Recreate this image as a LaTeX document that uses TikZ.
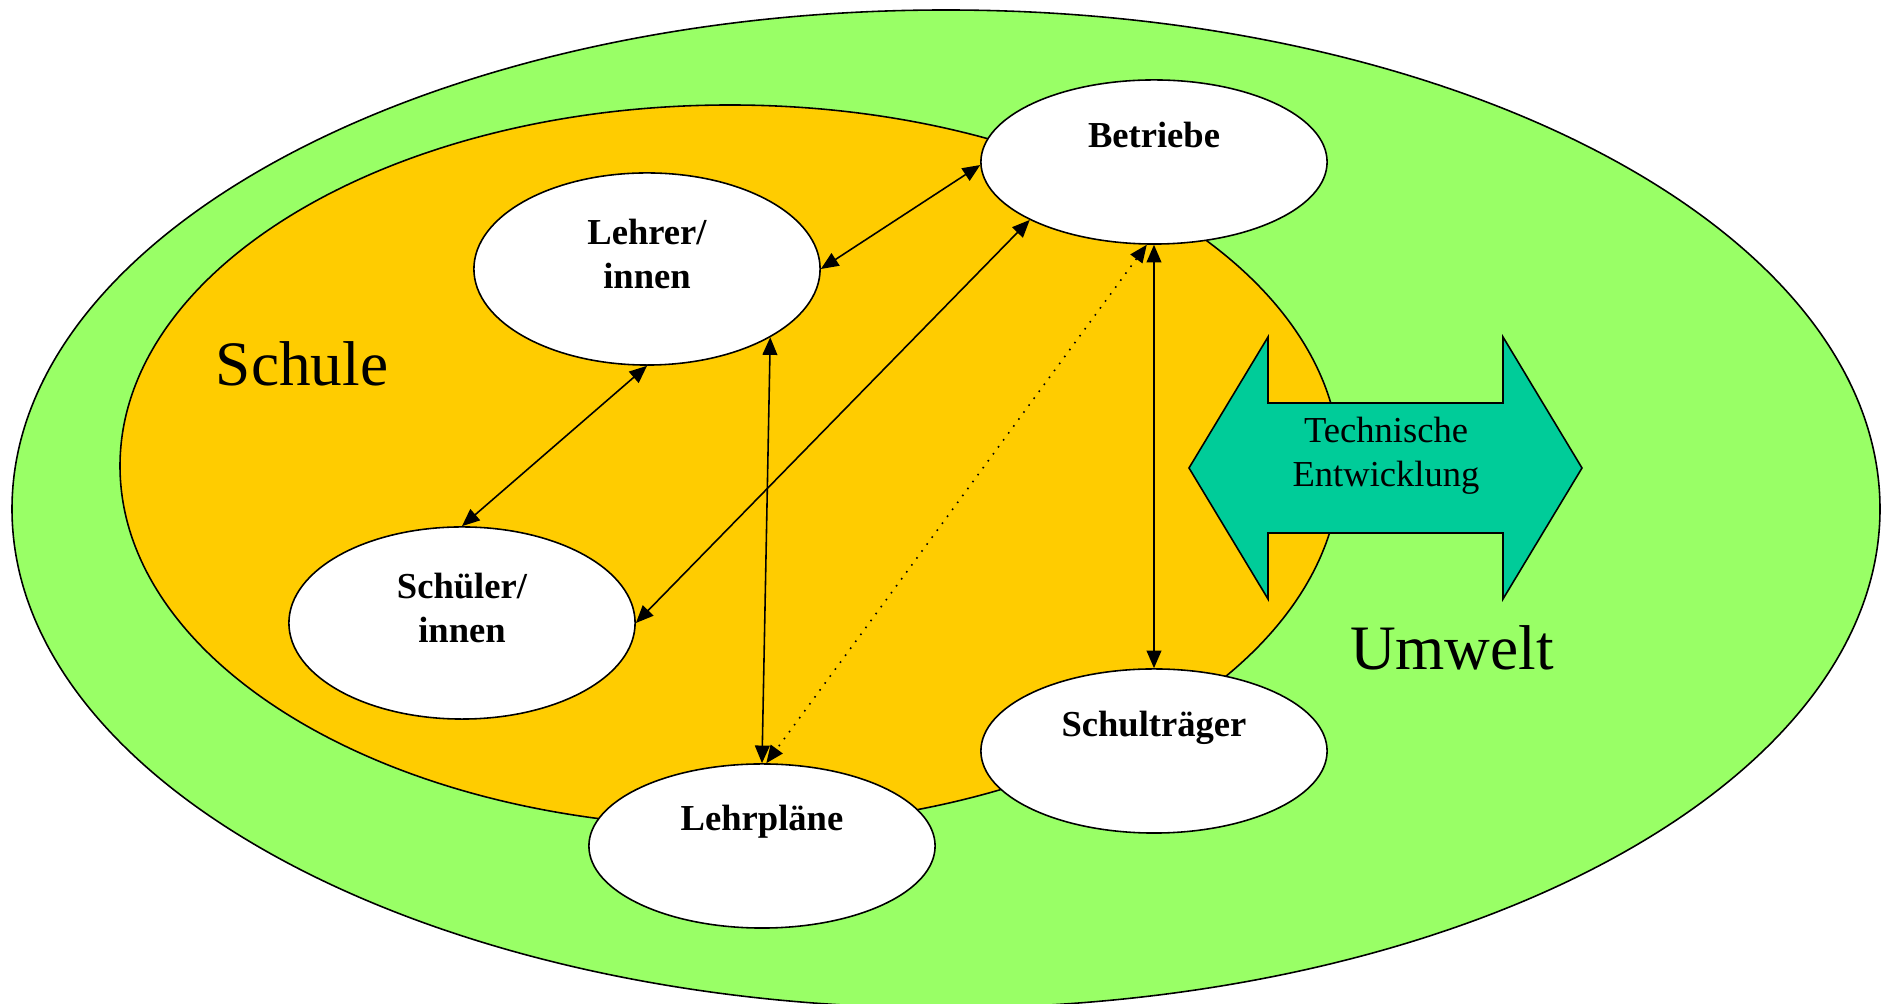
\documentclass[tikz,border=0pt]{standalone}
\usepackage{fontspec}
\setmainfont{Liberation Serif}
\usetikzlibrary{arrows.meta,shapes.geometric,calc}
\definecolor{umwelt}{HTML}{99FF66}
\definecolor{schule}{HTML}{FFCC00}
\definecolor{technik}{HTML}{00CC99}
\tikzset{
  ell/.style={ellipse,draw=black,fill=white,line width=0.45pt,minimum width=3.46cm,inner sep=0pt},
  ellA/.style={ell,minimum height=1.64cm},
  ellB/.style={ell,minimum height=1.92cm},
  lbl/.style={font=\fontsize{10.4}{12.4}\selectfont\bfseries,align=center,inner sep=0pt},
  big/.style={font=\fontsize{18}{21}\selectfont,inner sep=0pt},
  conn/.style={line width=0.45pt,{Triangle[length=5pt,width=4.2pt]}-{Triangle[length=5pt,width=4.2pt]}},
  dconn/.style={conn,dotted}
}
\begin{document}
\begin{tikzpicture}[x=0.01cm,y=-0.01cm]
\useasboundingbox (0,0) rectangle (1881,1004);
% outer and inner areas
\draw[fill=umwelt,line width=0.45pt] (946,509) ellipse [x radius=934,y radius=499];
\draw[fill=schule,line width=0.45pt] (730,466) ellipse [x radius=610,y radius=361];
% double arrow
\draw[fill=technik,line width=0.45pt] (1189,468) -- (1268,337) -- (1268,403) -- (1503,403) -- (1503,337) -- (1582,468) -- (1503,599) -- (1503,533) -- (1268,533) -- (1268,599) -- cycle;
\node[font=\fontsize{10.4}{12.6}\selectfont,align=center,inner sep=0pt] (tech) at (1386,456) {Technische\\Entwicklung};
% labels
\node[big] (schulelbl) at (302,364) {Schule};
\node[big] (umweltlbl) at (1452,648) {Umwelt};
% ellipses
\node[ellA] (betr) at (1154,162) {};
\node[ellB] (lehr) at (647,269) {};
\node[ellB] (schue) at (462,623) {};
\node[ellA] (plan) at (762,846) {};
\node[ellA] (trae) at (1154,751) {};
\node[lbl] (tbetr) at ($(betr.center)+(0,-27)$) {Betriebe};
\node[lbl] (tlehr) at ($(lehr.center)+(0,-15)$) {Lehrer/\\innen};
\node[lbl] (tschue) at ($(schue.center)+(0,-15)$) {Schüler/\\innen};
\node[lbl] (tplan) at ($(plan.center)+(0,-24)$) {Lehrpläne};
\node[lbl] (ttrae) at ($(trae.center)+(0,-23)$) {Schulträger};
% connectors
\draw[conn] (lehr.0) -- (betr.181);
\draw[conn] (lehr.270) -- (schue.90);
\draw[conn] (schue.0) -- (betr.205);
\draw[conn] (lehr.331) -- (plan.90);
\draw[conn] (betr.270) -- (trae.90);
\draw[dconn] (betr.265) -- (plan.87);
\end{tikzpicture}
\end{document}
